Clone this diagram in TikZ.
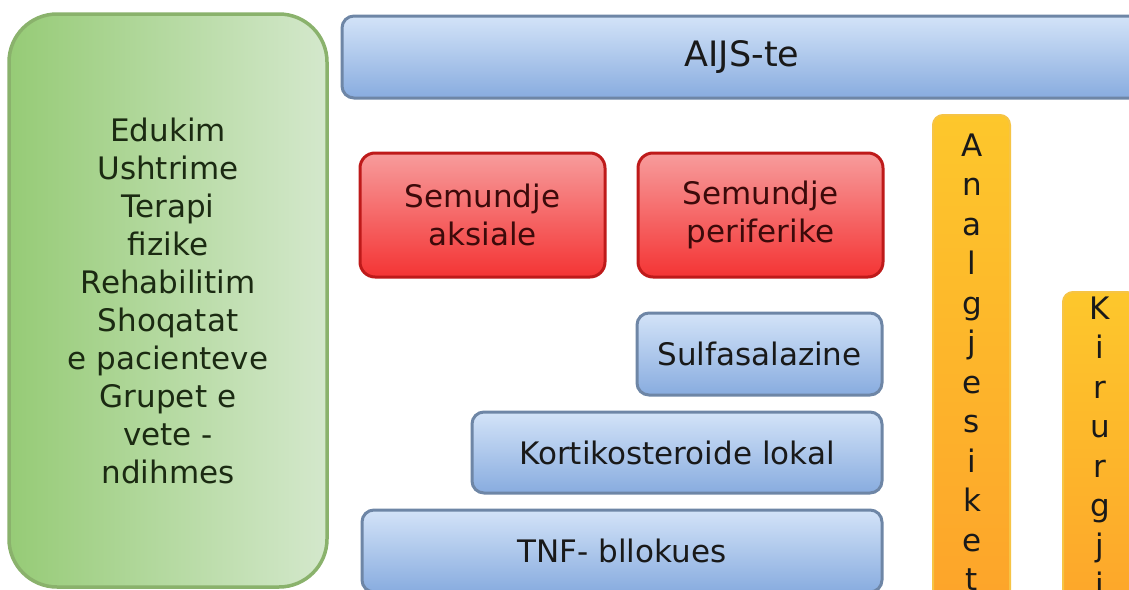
\documentclass[tikz,border=0pt]{standalone}
\usepackage{fontspec}
\setmainfont{DejaVu Sans}
\usetikzlibrary{positioning}
\definecolor{grnL}{HTML}{96CB76}
\definecolor{grnR}{HTML}{D4E8CC}
\definecolor{grnD}{HTML}{8AB26C}
\definecolor{grnT}{HTML}{1B2A12}
\definecolor{bluT}{HTML}{D3E3F8}
\definecolor{bluB}{HTML}{88ACDF}
\definecolor{bluD}{HTML}{6E86A6}
\definecolor{redT}{HTML}{F79C9C}
\definecolor{redB}{HTML}{F43434}
\definecolor{redD}{HTML}{BE1A1A}
\definecolor{redX}{HTML}{3C0A0A}
\definecolor{orgT}{HTML}{FDC72C}
\definecolor{orgB}{HTML}{FDA02A}
\definecolor{orgD}{HTML}{F6C445}
\tikzset{
  txt/.style={font=\fontsize{31}{38}\selectfont,inner sep=0pt},
  gbox/.style={txt,draw=grnD,line width=3.5pt,rounded corners=48pt,left color=grnL,right color=grnR,text=grnT,align=center},
  bbox/.style={txt,draw=bluD,line width=3pt,rounded corners=12pt,top color=bluT,bottom color=bluB,text=black!90},
  rbox/.style={txt,draw=redD,line width=3pt,rounded corners=15pt,top color=redT,bottom color=redB,text=redX,align=center},
  obox/.style={draw=orgD,line width=2pt,rounded corners=10pt,top color=orgT,bottom color=orgB,inner sep=0pt},
  ltr/.style={txt,anchor=base,text=black!90}
}
\begin{document}
\begin{tikzpicture}[x=1pt,y=-1pt]
\pgfmathsetmacro{\kls}{39.5}
\useasboundingbox(0,0) rectangle (1129,589);
\fill[white](0,0) rectangle (1129,589);
\clip(0,0) rectangle (1129,589);
\node[gbox,minimum width=318,minimum height=573](edu) at (168,300.5){Edukim\\Ushtrime\\Terapi\\fizike\\Rehabilitim\\Shoqatat\\e pacienteve\\Grupet e\\vete -\\ndihmes};
\node[bbox,minimum width=800,minimum height=82,font=\fontsize{35}{40}\selectfont](aijs) at (742,57){AIJS-te};
\node[rbox,minimum width=245,minimum height=124](aks) at (482.5,215){Semundje\\aksiale};
\node[rbox,minimum width=245,minimum height=124](per) at (760.5,215){Semundje\\periferike};
\node[bbox,minimum width=245,minimum height=82](sulf) at (759.5,354){Sulfasalazine};
\node[bbox,minimum width=410,minimum height=81](kort) at (677,452.5){Kortikosteroide lokal};
\node[bbox,minimum width=520,minimum height=82](tnf) at (622,551){TNF- bllokues};
\node[obox,minimum width=77,minimum height=545](anal) at (971.5,387.5){};
\node[obox,minimum width=74,minimum height=370](kir) at (1100,477){};
\foreach \l [count=\i from 0] in {A,n,a,l,g,j,e,s,i,k,e,t}{\node[ltr](an\i) at (972,156+\kls*\i){\l};}
\foreach \l [count=\i from 0] in {K,i,r,u,r,g,j,i}{\node[ltr](ki\i) at (1100,319+\kls*\i){\l};}
\end{tikzpicture}
\end{document}
